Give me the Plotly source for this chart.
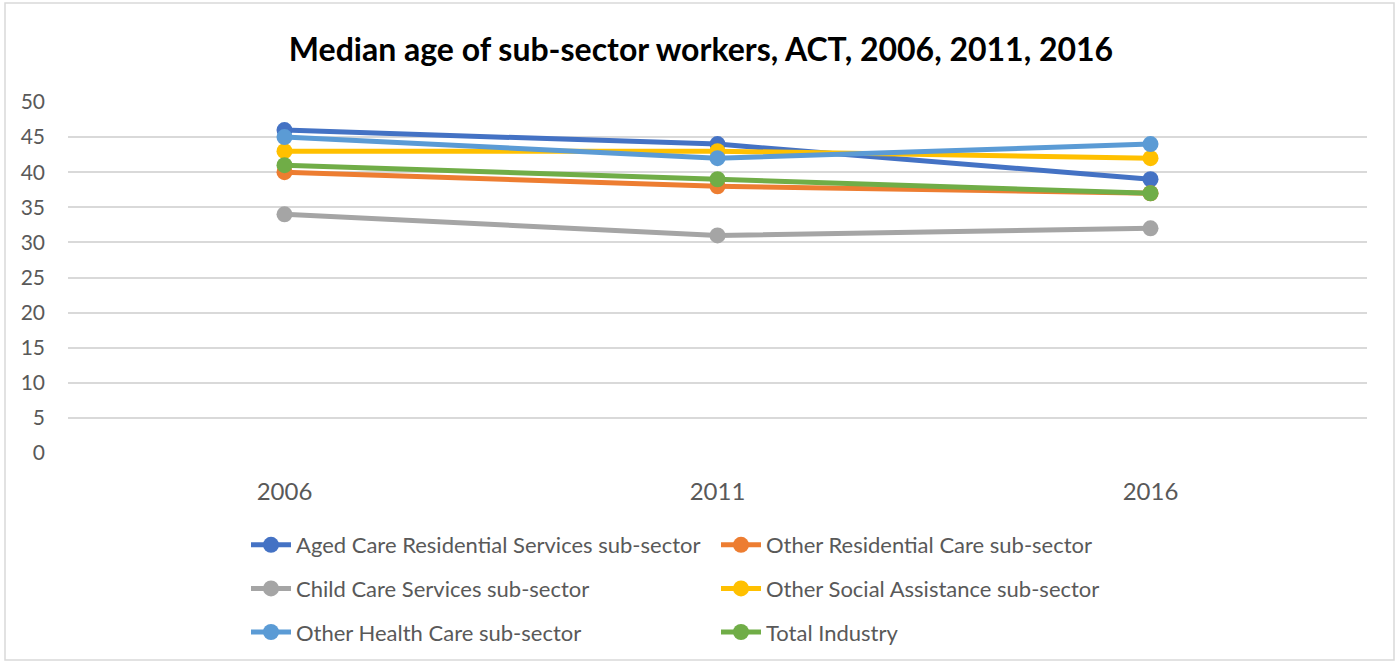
import plotly.graph_objects as go

years = ["2006", "2011", "2016"]
aged_care = [46, 44, 39]
other_residential = [40, 38, 37]
child_care = [34, 31, 32]
other_social = [43, 43, 42]
other_health = [45, 42, 44]
total_industry = [41, 39, 37]

series = [
    ("Aged Care Residential Services sub-sector", aged_care, "#4472C4", "legend"),
    ("Other Residential Care sub-sector", other_residential, "#ED7D31", "legend2"),
    ("Child Care Services sub-sector", child_care, "#A5A5A5", "legend"),
    ("Other Social Assistance sub-sector", other_social, "#FFC000", "legend2"),
    ("Other Health Care sub-sector", other_health, "#5B9BD5", "legend"),
    ("Total Industry", total_industry, "#70AD47", "legend2"),
]

FONT = "Lato, 'Open Sans', sans-serif"
TXT = "#595959"

fig = go.Figure()
for name, vals, color, lg in series:
    fig.add_trace(go.Scatter(
        x=years, y=vals, name=name, mode="lines+markers",
        line=dict(color=color, width=5),
        marker=dict(color=color, size=16),
        legend=lg, legendgroup=name,
    ))

W, H = 1397, 663
ml, mr, mt, mb = 68, 30, 102, 210
pw, ph = W - ml - mr, H - mt - mb


def px_x(p):
    return (p - ml) / pw


def px_y(p):
    return (H - mb - p) / ph


legend_common = dict(
    font=dict(family=FONT, size=22, color=TXT),
    bgcolor="rgba(0,0,0,0)",
    orientation="v",
    tracegroupgap=12,
    xref="container", yref="container",
    xanchor="left", yanchor="top",
    itemwidth=40,
)

fig.update_layout(
    width=W, height=H,
    margin=dict(l=ml, r=mr, t=mt, b=mb, autoexpand=False),
    paper_bgcolor="white", plot_bgcolor="white",
    title=dict(
        text="<b>Median age of sub-sector workers, ACT, 2006, 2011, 2016</b>",
        x=701 / W, xref="container", xanchor="center",
        y=1 - 50 / H, yref="container", yanchor="middle",
        font=dict(family=FONT, size=32, color="black"),
    ),
    xaxis=dict(
        type="category", range=[-0.5, 2.5], automargin=False,
        showgrid=False, zeroline=False, showline=False, ticks="",
        tickfont=dict(family=FONT, size=24, color=TXT),
        ticklabelstandoff=22,
    ),
    yaxis=dict(
        range=[0, 50], dtick=5, tick0=0, automargin=False,
        showgrid=True, gridcolor="#D9D9D9", gridwidth=1.5,
        zeroline=False, showline=False, ticks="",
        tickfont=dict(family=FONT, size=21, color=TXT),
        ticklabelstandoff=22,
    ),
    legend=dict(x=246 / W, y=1 - 524 / H, **legend_common),
    legend2=dict(x=716 / W, y=1 - 524 / H, **legend_common),
    showlegend=True,
    shapes=[dict(
        type="rect", xref="paper", yref="paper",
        x0=px_x(5), x1=px_x(1394), y0=px_y(660), y1=px_y(3),
        line=dict(color="#D9D9D9", width=1.5), layer="below",
    )],
)

fig.write_html("out.html")
